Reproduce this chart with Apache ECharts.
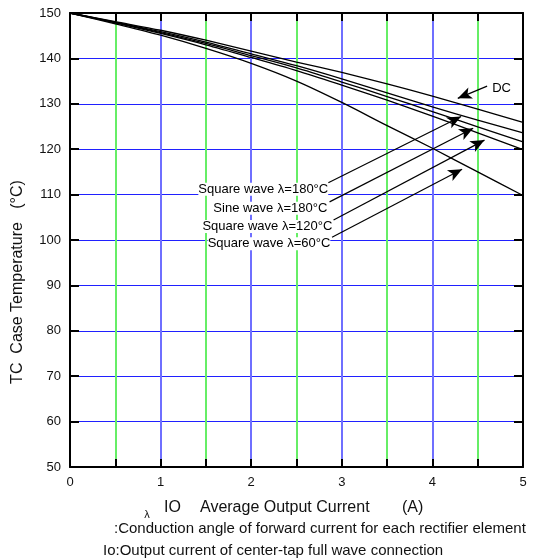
<!DOCTYPE html>
<html>
<head>
<meta charset="utf-8">
<script src="https://cdn.jsdelivr.net/npm/echarts@6/dist/echarts.min.js"></script>
<style>
html,body{margin:0;padding:0;background:#fff;}
#chart{width:544px;height:559px;}
</style>
</head>
<body>
<div id="chart"></div>
<script>
// Io (A) sample points
const currents = [0, 0.5, 1, 1.5, 2, 2.5, 3, 3.5, 4, 4.5, 5];
// Case temperature (°C) for each waveform
const dcTemp      = [150, 148.1, 146.2, 144.0, 141.6, 139.2, 136.9, 134.4, 131.7, 128.8, 125.9];
const sq180Temp   = [150, 148.0, 145.9, 143.6, 141.0, 138.4, 135.5, 132.4, 129.3, 126.4, 123.6];
const sine180Temp = [150, 147.9, 145.7, 143.3, 140.6, 137.9, 134.8, 131.6, 128.3, 124.9, 121.6];
const sq120Temp   = [150, 147.8, 145.5, 143.0, 140.2, 137.3, 134.1, 130.8, 127.3, 123.6, 119.9];
const sq60Temp    = [150, 147.6, 145.1, 142.2, 138.9, 135.0, 130.3, 125.2, 120.2, 115.0, 109.8];

const xTicks = [0, 1, 2, 3, 4, 5];
const yTicks = [50, 60, 70, 80, 90, 100, 110, 120, 130, 140, 150];

// annotation labels: text, anchor [x, y] (label end), side
const labelTexts   = ['Square wave λ=180°C', 'Sine wave λ=180°C', 'Square wave λ=120°C', 'Square wave λ=60°C', 'DC'];
const labelAnchors = [[2.85, 111.2], [2.84, 107.0], [2.895, 103.0], [2.873, 99.2], [4.66, 133.3]];
const labelSides   = ['left', 'left', 'left', 'left', 'right'];
// arrows: from -> to (data coords)
const arrowFrom = [[2.851, 112.6], [2.865, 108.4], [2.909, 104.4], [2.892, 100.6], [4.604, 133.9]];
const arrowTo   = [[4.317, 127.2], [4.450, 124.6], [4.575, 122.0], [4.328, 115.6], [4.280, 131.2]];

const FONT = '"Liberation Sans", Arial, sans-serif';
const toPairs = ys => currents.map((x, i) => [x, ys[i]]);

const chart = echarts.init(document.getElementById('chart'), null, {renderer: 'canvas'});

const tickStyle = {color: '#000', width: 2};
const baseX = {
  type: 'value', min: 0, max: 5, interval: 0.5,
  axisLine: {show: true, onZero: false, lineStyle: {color: '#000', width: 2}},
  axisTick: {show: true, inside: true, length: 8, lineStyle: tickStyle}
};
const baseY = {
  type: 'value', min: 50, max: 150, interval: 10,
  axisLine: {show: true, onZero: false, lineStyle: {color: '#000', width: 2}},
  axisTick: {show: true, inside: true, length: 9, lineStyle: tickStyle}
};

const lineSeries = (name, ys) => ({
  name, type: 'line', data: toPairs(ys), showSymbol: false, smooth: 0.3,
  lineStyle: {color: '#000', width: 1.3}, itemStyle: {color: '#000'}, z: 5, silent: true
});

chart.setOption({
  animation: false,
  backgroundColor: '#fff',
  grid: {left: 70, right: 21, top: 13, bottom: 92},
  xAxis: [
    Object.assign({}, baseX, {
      position: 'bottom',
      axisLabel: {show: true, margin: 9, fontSize: 13, color: '#111', fontFamily: FONT,
        formatter: v => xTicks.includes(v) ? String(v) : ''},
      splitLine: {show: true, lineStyle: {color: ['#6f6fff', '#66ee66'], width: 2}}
    }),
    Object.assign({}, baseX, {
      position: 'top', axisLabel: {show: false}, splitLine: {show: false}
    })
  ],
  yAxis: [
    Object.assign({}, baseY, {
      position: 'left',
      axisLabel: {show: true, margin: 9, fontSize: 13, color: '#111', fontFamily: FONT,
        formatter: v => yTicks.includes(v) ? String(v) : ''},
      splitLine: {show: true, lineStyle: {color: '#2020ff', width: 1}}
    }),
    Object.assign({}, baseY, {
      position: 'right', axisLabel: {show: false}, splitLine: {show: false}
    })
  ],
  series: [
    lineSeries('DC', dcTemp),
    lineSeries('Square wave λ=180°C', sq180Temp),
    lineSeries('Sine wave λ=180°C', sine180Temp),
    lineSeries('Square wave λ=120°C', sq120Temp),
    lineSeries('Square wave λ=60°C', sq60Temp),
    {
      name: 'annotations', type: 'line', data: [], silent: true, z: 6,
      markLine: {
        silent: true, animation: false,
        symbol: ['none', 'arrow'], symbolSize: [9, 14],
        lineStyle: {color: '#000', width: 1.2, type: 'solid'},
        itemStyle: {color: '#000'},
        label: {show: false},
        emphasis: {disabled: true},
        data: arrowFrom.map((f, i) => [{coord: f}, {coord: arrowTo[i]}])
      },
      markPoint: {
        silent: true, animation: false,
        symbol: 'circle', symbolSize: 0,
        itemStyle: {color: 'transparent'},
        data: labelTexts.map((t, i) => ({
          coord: labelAnchors[i], name: t,
          label: {show: true, position: labelSides[i], distance: 0, formatter: t,
            color: '#000', fontSize: 13, fontFamily: FONT,
            backgroundColor: labelSides[i] === 'left' ? '#fff' : 'transparent', padding: [0, 0, 0, 0]}
        }))
      }
    }
  ],
  graphic: [
    {type: 'text', x: 18, y: 282, rotation: Math.PI / 2,
      style: {text: 'TC  Case Temperature   (°C)', font: '16px ' + FONT, fill: '#111',
        textAlign: 'center', textVerticalAlign: 'middle'}},
    {type: 'text', x: 147, y: 515,
      style: {text: 'λ', font: '11px ' + FONT, fill: '#111', textAlign: 'center', textVerticalAlign: 'middle'}},
    {type: 'text', x: 164, y: 508,
      style: {text: 'IO', font: '16px ' + FONT, fill: '#111', textAlign: 'left', textVerticalAlign: 'middle'}},
    {type: 'text', x: 200, y: 508,
      style: {text: 'Average Output Current', font: '16px ' + FONT, fill: '#111', textAlign: 'left', textVerticalAlign: 'middle'}},
    {type: 'text', x: 402, y: 508,
      style: {text: '(A)', font: '16px ' + FONT, fill: '#111', textAlign: 'left', textVerticalAlign: 'middle'}},
    {type: 'text', x: 114, y: 529,
      style: {text: ':Conduction angle of forward current for each rectifier element', font: '15px ' + FONT, fill: '#111', textAlign: 'left', textVerticalAlign: 'middle'}},
    {type: 'text', x: 103, y: 551,
      style: {text: 'Io:Output current of center-tap full wave connection', font: '15px ' + FONT, fill: '#111', textAlign: 'left', textVerticalAlign: 'middle'}}
  ]
});
</script>
</body>
</html>
